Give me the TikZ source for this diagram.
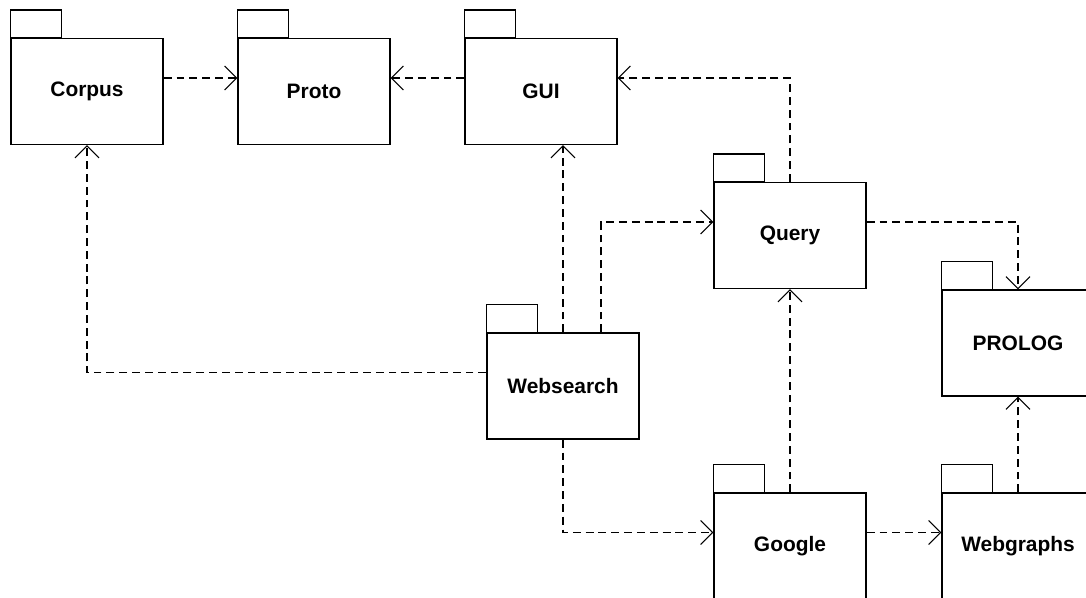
\documentclass[tikz,border=0pt]{standalone}
\usepackage{fontspec}
\setmainfont{Liberation Sans}
\usetikzlibrary{arrows.meta}
% #1 node name, #2 centre of the body, #3 label
\newcommand\package[3]{%
\node[pkg](#1) at (#2){#3};
\draw[pkgline](#1.north west) rectangle ++(1.02cm,0.56cm);}
\begin{document}
\begin{tikzpicture}[x=0.02cm, y=-0.02cm, >={Straight Barb[length=2.4mm,width=4.8mm]},
pkg/.style={draw, line width=0.85pt, minimum width=3.04cm, minimum height=2.12cm, inner sep=0pt, fill=white, font=\fontsize{11.9}{14}\selectfont\bfseries},
pkgline/.style={line width=0.85pt},
dep/.style={->, line width=0.6pt, dash pattern=on 4.5pt off 2.8pt}]
\useasboundingbox(0,0) rectangle (1086,598);
\clip(0,0) rectangle (1086,598);
\package{Corpus}{87,91.5}{Corpus}
\package{Proto}{314,91.5}{Proto}
\package{GUI}{541,91.5}{GUI}
\package{Query}{790,235.5}{Query}
\package{PROLOG}{1018,343}{PROLOG}
\package{Websearch}{563,386}{Websearch}
\package{Google}{790,546}{Google}
\package{Webgraphs}{1018,546}{Webgraphs}

\draw[dep]([yshift=0.27cm]Corpus.east)--([yshift=0.27cm]Proto.west);
\draw[dep]([yshift=0.27cm]GUI.west)--([yshift=0.27cm]Proto.east);
\draw[dep](Query.north)|-([yshift=0.27cm]GUI.east);
\draw[dep]([yshift=0.27cm]Websearch.west)-|(Corpus.south);
\draw[dep](Websearch.north)--(Websearch.north |- GUI.south);
\draw[dep]([xshift=0.76cm]Websearch.north)|-([yshift=0.27cm]Query.west);
\draw[dep]([yshift=0.27cm]Query.east)-|(PROLOG.north);
\draw[dep](Google.north)--(Query.south);
\draw[dep](Websearch.south)|-([yshift=0.27cm]Google.west);
\draw[dep]([yshift=0.27cm]Google.east)--([yshift=0.27cm]Webgraphs.west);
\draw[dep](Webgraphs.north)--(PROLOG.south);
\end{tikzpicture}
\end{document}
